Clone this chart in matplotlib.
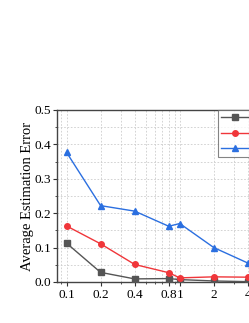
import matplotlib
matplotlib.use("Agg")
import matplotlib.pyplot as plt
from matplotlib.ticker import FixedLocator, FixedFormatter, MultipleLocator, LogLocator, NullFormatter

x_values = [0.1, 0.2, 0.4, 0.8, 1, 2, 4]
x_tick_labels = ["0.1", "0.2", "0.4", "0.8", "1", "2", "4"]
series_gray = [0.113, 0.028, 0.009, 0.010, 0.007, 0.003, 0.001]
series_red = [0.163, 0.111, 0.051, 0.027, 0.012, 0.015, 0.014]
series_blue = [0.377, 0.222, 0.206, 0.162, 0.170, 0.100, 0.055]
labels = ["Method A", "Method B", "Method C"]

plt.rcParams['font.family'] = ['Liberation Serif', 'DejaVu Serif']
fs = 9.5

fig = plt.figure(figsize=(2.49, 3.23), dpi=100)
W, H = 249, 323
left_px, right_px, top_px, bottom_px = 56.5, 293, 110, 282
ax = fig.add_axes([left_px / W, 1 - bottom_px / H, (right_px - left_px) / W, (bottom_px - top_px) / H])

ax.plot(x_values, series_gray, color="#555555", marker="s", markersize=3.8, lw=1.0, label=labels[0], zorder=3)
ax.plot(x_values, series_red, color="#f0363a", marker="o", markersize=4.0, lw=1.0, label=labels[1], zorder=3)
ax.plot(x_values, series_blue, color="#2b6fe0", marker="^", markersize=4.5, lw=1.0, label=labels[2], zorder=3)

ax.set_xscale("log")
ax.set_xlim(0.0816, 10)
ax.set_ylim(0, 0.5)
ax.xaxis.set_major_locator(FixedLocator(x_values))
ax.xaxis.set_major_formatter(FixedFormatter(x_tick_labels))
ax.xaxis.set_minor_locator(LogLocator(base=10, subs=(0.3, 0.5, 0.6, 0.7, 0.9)))
ax.xaxis.set_minor_formatter(NullFormatter())
ax.yaxis.set_major_locator(MultipleLocator(0.1))
ax.yaxis.set_minor_locator(MultipleLocator(0.05))
ax.yaxis.set_major_formatter(plt.FuncFormatter(lambda v, p: f"{v:.1f}"))

ax.grid(True, which="both", color="#cccccc", linestyle=(0, (2, 2)), lw=0.6, zorder=0)
ax.tick_params(which="major", direction="out", length=2.9, width=0.8, labelsize=fs, colors="#333333", labelcolor="black")
ax.tick_params(which="minor", direction="out", length=1.6, width=0.6, colors="#333333")
ax.tick_params(axis="y", which="major", pad=0.8)
ax.tick_params(axis="x", which="major", pad=2.5)
for s in ax.spines.values():
    s.set_color("#444444")
    s.set_linewidth(1.0)

ax.set_ylabel("Average Estimation Error", fontsize=10.5, labelpad=0.5)

leg = ax.legend(loc="upper left", bbox_to_anchor=((217.5 - left_px) / (right_px - left_px), 1.0),
                fontsize=8, frameon=True, fancybox=False, edgecolor="#666666",
                handlelength=2.5, borderaxespad=0, borderpad=0.3, labelspacing=0.5,
                handletextpad=0.5)
leg.get_frame().set_linewidth(0.8)

fig.savefig("out.png", dpi=100)
